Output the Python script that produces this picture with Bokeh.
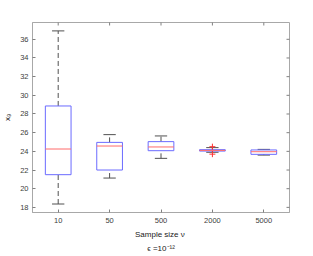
import math
from bokeh.plotting import figure
from bokeh.models import FixedTicker, Title, ColumnDataSource, Range1d
from bokeh.embed import file_html
from bokeh.resources import INLINE

# ---- data ----
categories = ["10", "50", "500", "2000", "5000"]
q1 = [21.5, 22.0, 24.07, 24.03, 23.68]
q3 = [28.86, 24.96, 25.04, 24.18, 24.15]
median = [24.25, 24.57, 24.47, 24.10, 23.96]
upper = [36.9, 25.79, 25.65, 24.40, 24.21]
lower = [18.36, 21.14, 23.25, 23.90, 23.60]
outlier_group = [4, 4]
outlier_value = [24.5, 23.7]
y_ticks = [18, 20, 22, 24, 26, 28, 30, 32, 34, 36]

pos = list(range(1, len(categories) + 1))
bw = 0.25   # half box width
cw = 0.12   # half cap width

src = ColumnDataSource(dict(
    x=pos,
    left=[p_ - bw for p_ in pos], right=[p_ + bw for p_ in pos],
    cl=[p_ - cw for p_ in pos], cr=[p_ + cw for p_ in pos],
    q1=q1, q3=q3, med=median, up=upper, lo=lower,
))

xr = Range1d(0.5, 5.5)
yr = Range1d(17.45, 37.8)
p = figure(frame_width=257, frame_height=190, output_backend="svg",
           toolbar_location=None, x_range=xr, y_range=yr,
           min_border_left=26, min_border_right=14, min_border_top=22,
           min_border_bottom=44)
p.background_fill_color = "white"
p.border_fill_color = "white"
p.grid.visible = False
p.outline_line_color = "#a8a8a8"

axis_col = "#a8a8a8"
lab_col = "#404040"
font = "Liberation Sans"

for ax in p.xaxis + p.yaxis:
    ax.axis_line_color = axis_col
    ax.major_tick_line_color = "#808080"
    ax.major_tick_in = 3
    ax.major_tick_out = 0
    ax.minor_tick_line_color = None
    ax.major_label_text_font = font
    ax.major_label_text_font_size = "7.5px"
    ax.major_label_text_color = lab_col
    ax.axis_label_text_font = font
    ax.axis_label_text_font_size = "8px"
    ax.axis_label_text_font_style = "normal"
    ax.axis_label_text_color = "#202020"

p.xaxis.ticker = FixedTicker(ticks=pos)
p.xaxis.major_label_overrides = {p_: c for p_, c in zip(pos, categories)}
p.xaxis.major_label_standoff = 5
p.xaxis.axis_label = "Sample size  ν"
p.xaxis.axis_label_standoff = 4
p.yaxis.ticker = FixedTicker(ticks=y_ticks)
p.yaxis.major_label_standoff = 4
p.yaxis.axis_label = "x₉"
p.yaxis.axis_label_standoff = 5

# mirrored tick marks on top and right edges (half of each dash is clipped)
p.scatter(x=pos, y=[yr.end] * len(pos), marker="dash", angle=math.pi / 2,
          size=6, line_color="#808080", line_width=1)
p.scatter(x=[xr.end] * len(y_ticks), y=y_ticks, marker="dash",
          size=6, line_color="#808080", line_width=1)

# whiskers
p.segment(x0="x", y0="q3", x1="x", y1="up", source=src,
          line_color="#505050", line_dash="5 3", line_width=1)
p.segment(x0="x", y0="lo", x1="x", y1="q1", source=src,
          line_color="#505050", line_dash="5 3", line_width=1)
# caps
p.segment(x0="cl", y0="up", x1="cr", y1="up", source=src,
          line_color="#505050", line_width=1)
p.segment(x0="cl", y0="lo", x1="cr", y1="lo", source=src,
          line_color="#505050", line_width=1)
# boxes
p.quad(left="left", right="right", bottom="q1", top="q3", source=src,
       fill_color=None, line_color="#6b6bff", line_width=1)
# medians
p.segment(x0="left", y0="med", x1="right", y1="med", source=src,
          line_color="#ff6b6b", line_width=1)
# outliers
p.scatter(x=outlier_group, y=outlier_value, marker="cross", size=6,
          line_color="#ff3030", line_width=1)

p.add_layout(Title(text="ϵ =10⁻¹²", align="center", text_font=font,
                   text_font_size="8px", text_font_style="normal",
                   text_color="#202020", standoff=0), "below")

open("out.html", "w").write(file_html(p, INLINE))
